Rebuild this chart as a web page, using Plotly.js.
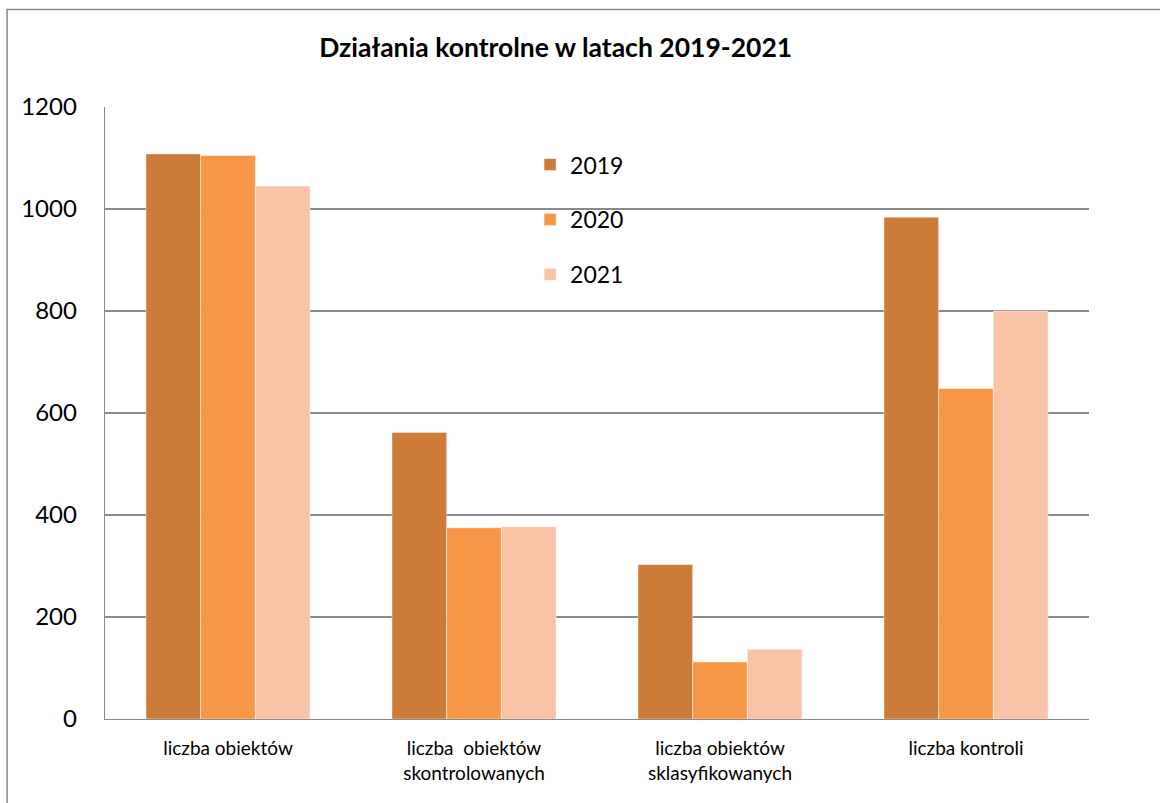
<!DOCTYPE html>
<html>
<head>
<meta charset="utf-8">
<script src="https://cdn.plot.ly/plotly-3.0.1.min.js"></script>
<style>
  html, body { margin: 0; padding: 0; background: #fff; }
  #chart { width: 1160px; height: 803px; }
</style>
</head>
<body>
<div id="chart"></div>
<script>
const categories = [
  "liczba obiektów",
  "liczba  obiektów<br>skontrolowanych",
  "liczba obiektów<br>sklasyfikowanych",
  "liczba kontroli"
];
const seriesNames = ["2019", "2020", "2021"];
const values2019 = [1108, 562, 303, 984];
const values2020 = [1105, 375, 112, 648];
const values2021 = [1045, 377, 137, 800];
const yTicks = [0, 200, 400, 600, 800, 1000, 1200];

const colors = ["#CC7B38", "#F79646", "#F9C3A8"];
const allValues = [values2019, values2020, values2021];

const FONT = "Lato, 'Liberation Sans', sans-serif";

const traces = allValues.map((vals, i) => ({
  type: "bar",
  name: seriesNames[i],
  x: categories,
  y: vals,
  legendgroup: "g" + i,
  marker: { color: colors[i], line: { color: "rgba(255,255,255,0.45)", width: 1 } },
  hoverinfo: "y"
}));

const gridColor = "#8a8a8a";

const layout = {
  width: 1160,
  height: 803,
  margin: { l: 105, r: 71, t: 107, b: 84 },
  paper_bgcolor: "#ffffff",
  plot_bgcolor: "#ffffff",
  font: { family: FONT, color: "#000000" },
  title: {
    text: "<b>Działania kontrolne w latach 2019-2021</b>",
    font: { family: FONT, size: 26.5, color: "#000000" },
    xref: "paper", x: 0.458, xanchor: "center",
    yref: "container", y: 1 - 48 / 803, yanchor: "middle"
  },
  barmode: "group",
  bargap: 0.333,
  bargroupgap: 0,
  showlegend: true,
  legend: {
    x: 0.432, xanchor: "left",
    y: 0.941, yanchor: "top",
    font: { family: FONT, size: 23, color: "#000000" },
    traceorder: "grouped",
    tracegroupgap: 22,
    bgcolor: "rgba(0,0,0,0)"
  },
  xaxis: {
    type: "category",
    showgrid: false,
    showline: true,
    linecolor: gridColor,
    linewidth: 1.3,
    ticks: "",
    tickfont: { family: FONT, size: 19, color: "#000000" },
    ticklabelstandoff: 12,
    fixedrange: true
  },
  yaxis: {
    range: [0, 1200],
    tickvals: yTicks,
    ticktext: yTicks.map(String),
    showgrid: true,
    gridcolor: gridColor,
    gridwidth: 1.3,
    zeroline: false,
    showline: true,
    linecolor: gridColor,
    linewidth: 1.3,
    ticks: "",
    tickfont: { family: FONT, size: 24, color: "#000000" },
    ticklabelstandoff: 22,
    fixedrange: true
  },
  shapes: [
    {
      type: "rect", xref: "paper", yref: "paper",
      x0: -0.0995, x1: 1.3, y0: -0.4, y1: 1.1595,
      line: { color: gridColor, width: 1.5 },
      fillcolor: "rgba(0,0,0,0)",
      layer: "below"
    }
  ]
};

Plotly.newPlot("chart", traces, layout, { displayModeBar: false, staticPlot: true });
</script>
</body>
</html>
